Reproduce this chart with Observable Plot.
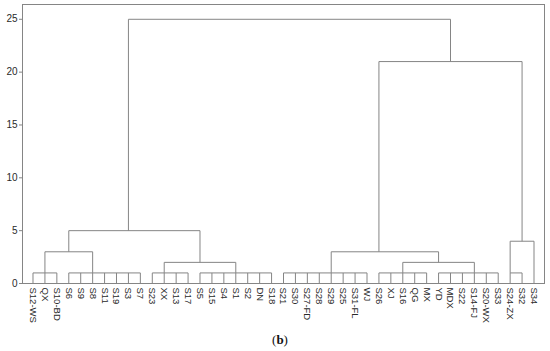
<!DOCTYPE html>
<html>
<head>
<meta charset="utf-8">
<script src="https://cdn.jsdelivr.net/npm/d3@7"></script>
<script src="https://cdn.jsdelivr.net/npm/@observablehq/plot@0.6"></script>
<style>
  html, body { margin: 0; padding: 0; background: #fff; }
  #chart { width: 550px; }
  #caption { width: 550px; text-align: center; font-family: "Liberation Serif", "Times New Roman", serif; font-size: 13px; color: #111; margin-top: 7px; padding-left: 10px; box-sizing: border-box; }
</style>
</head>
<body>
<div id="chart"></div>
<div id="caption">(<b>b</b>)</div>
<script>
// Leaf order (left to right)
const leaves = ["S12-WS","QX","S10-BD","S6","S9","S8","S11","S19","S3","S7",
  "S23","XX","S13","S17","S5","S15","S4","S1","S2","DN","S18",
  "S21","S30","S27-FD","S28","S29","S25","S31-FL","WJ",
  "S26","XJ","S16","QG","MX","YD","MDX","S22","S14-FJ","S20-WX","S33",
  "S24-ZX","S32","S34"];

// Low-level "comb" clusters (joined at rescaled distance ~1)
const groupIds    = ["G1","G2","G3","G4","G5","G6","G7","G8"];
const groupFirst  = ["S12-WS","S6","S23","S5","S21","S26","YD","S24-ZX"];
const groupLast   = ["S10-BD","S7","S17","S18","WJ","MX","S33","S32"];
const groupAnchor = ["QX","S8","XX","S1","S29","S16","S14-FJ","S24-ZX"];
const groupHeight = [1,1,1,1,1,1,1,1];

// Higher-level merges
const mergeIds    = ["M1","M2","M3","M4","M5","M6","M7","M8"];
const mergeLeft   = ["G1","G3","M1","G6","G5","G8","M5","M3"];
const mergeRight  = ["G2","G4","M2","G7","M4","S34","M6","M7"];
const mergeHeight = [3,2,5,2,3,4,21,25];

const yTicks = [0,5,10,15,20,25];

// Build segments
const idx = new Map(leaves.map((d,i)=>[d,i]));
const node = new Map(); // id -> {i, h}
leaves.forEach((d,i)=>node.set(d,{i, h:0}));
const segs = [];
groupIds.forEach((g,k)=>{
  const a = idx.get(groupFirst[k]), b = idx.get(groupLast[k]), h = groupHeight[k];
  for (let i=a;i<=b;i++) segs.push({x1:leaves[i], x2:leaves[i], y1:0, y2:h});
  segs.push({x1:leaves[a], x2:leaves[b], y1:h, y2:h});
  node.set(g, {i: idx.get(groupAnchor[k]), h});
});
mergeIds.forEach((m,k)=>{
  const L = node.get(mergeLeft[k]), R = node.get(mergeRight[k]), h = mergeHeight[k];
  segs.push({x1:leaves[L.i], x2:leaves[L.i], y1:L.h, y2:h});
  segs.push({x1:leaves[R.i], x2:leaves[R.i], y1:R.h, y2:h});
  segs.push({x1:leaves[L.i], x2:leaves[R.i], y1:h, y2:h});
  node.set(m, {i: Math.floor((L.i+R.i)/2), h});
});

const lineColor = "#858585";
const chart = Plot.plot({
  width: 550,
  height: 325,
  marginLeft: 22,
  marginRight: 6,
  marginTop: 4,
  marginBottom: 42,
  style: {fontFamily: "'Liberation Sans', Arial, sans-serif", fontSize: "10px", color: "#2a2a2a", background: "#fff"},
  x: {type: "point", domain: leaves, padding: 0.88},
  y: {domain: [0, 26.4]},
  marks: [
    Plot.frame({stroke: lineColor}),
    Plot.axisY({ticks: yTicks, tickSize: 3, tickPadding: 2, stroke: lineColor, fontSize: 10, label: null, tickFormat: d=>String(d)}),
    Plot.axisX({tickSize: 0, tickRotate: 90, tickPadding: 4, fontSize: 9.5, label: null}),
    Plot.link(segs, {x1:"x1", x2:"x2", y1:"y1", y2:"y2", stroke: lineColor, strokeWidth: 1})
  ]
});
document.getElementById("chart").appendChild(chart);
</script>
</body>
</html>
